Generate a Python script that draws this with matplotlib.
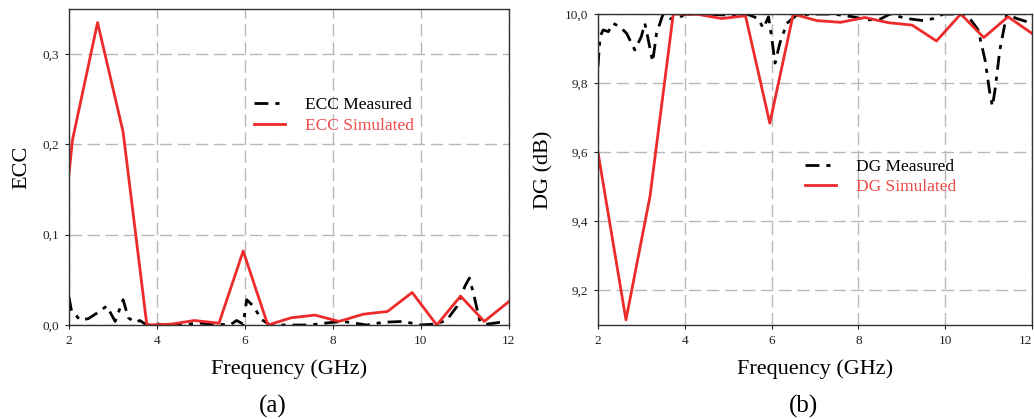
import matplotlib.pyplot as plt
from matplotlib.ticker import FuncFormatter

plt.rcParams["font.family"] = ["Liberation Serif", "DejaVu Serif"]

RED = "#ee2b2b"
RED_TEXT = "#f04a4a"

# ECC, simulated
ecc_sim_f = [2.0, 2.08, 2.65, 3.23, 3.77, 4.33, 4.85, 5.41, 5.96, 6.52, 7.05, 7.59,
             8.14, 8.69, 9.24, 9.80, 10.36, 10.90, 11.44, 12.0]
ecc_sim = [0.167, 0.205, 0.335, 0.214, 0.0, 0.001, 0.005, 0.002, 0.082, 0.0, 0.008, 0.011,
           0.004, 0.012, 0.015, 0.036, 0.0, 0.032, 0.004, 0.026]

# ECC, measured
ecc_meas_f = [2.0, 2.06, 2.12, 2.25, 2.44, 2.63, 2.86, 3.05, 3.23, 3.35, 3.5, 3.61, 3.77,
              4.0, 4.4, 4.98, 5.35, 5.66, 5.81, 5.96, 6.04, 6.19, 6.38, 6.57, 7.0, 7.45,
              8.0, 8.23, 8.77, 9.14, 9.6, 9.98, 10.3, 10.58, 10.81, 11.0, 11.1, 11.19,
              11.34, 11.5, 11.8, 11.95]
ecc_meas = [0.031, 0.015, 0.013, 0.0055, 0.007, 0.013, 0.021, 0.004, 0.028, 0.008, 0.003,
            0.005, 0.0, 0.001, 0.0, 0.002, 0.001, 0.0, 0.005, 0.001, 0.028, 0.021, 0.006,
            0.0, 0.0, 0.0, 0.003, 0.004, 0.0, 0.003, 0.004, 0.0, 0.001, 0.005, 0.020, 0.043,
            0.052, 0.036, 0.004, 0.001, 0.003, 0.005]

# DG (dB), simulated
dg_sim_f = [2.0, 2.645, 3.2, 3.735, 4.3, 4.85, 5.40, 5.96, 6.5, 7.04, 7.59, 8.15, 8.69,
            9.24, 9.80, 10.36, 10.89, 11.45, 12.0]
dg_sim = [9.60, 9.115, 9.473, 10.0, 9.999, 9.987, 9.995, 9.684, 10.0, 9.981, 9.976, 9.990,
          9.975, 9.968, 9.922, 10.0, 9.932, 9.992, 9.944]

# DG (dB), measured
dg_meas_f = [2.0, 2.05, 2.12, 2.24, 2.35, 2.51, 2.66, 2.85, 3.0, 3.08, 3.16, 3.26, 3.35,
             3.5, 3.66, 3.85, 4.0, 4.43, 4.96, 5.43, 5.69, 5.81, 5.93, 6.0, 6.08, 6.19,
             6.35, 6.58, 6.96, 7.42, 7.88, 8.19, 8.5, 8.73, 9.11, 9.5, 9.73, 9.96, 10.34,
             10.57, 10.76, 10.92, 11.03, 11.09, 11.15, 11.26, 11.42, 11.65, 11.88, 12.0]
dg_meas = [9.848, 9.935, 9.954, 9.949, 9.973, 9.963, 9.944, 9.896, 9.935, 9.973, 9.925,
           9.862, 9.944, 10.0, 9.987, 9.987, 10.0, 10.0, 9.997, 10.0, 9.987, 9.959, 9.992,
           9.935, 9.858, 9.915, 9.973, 9.997, 10.0, 10.0, 9.992, 9.983, 9.985, 10.0, 9.987,
           9.981, 9.987, 10.0, 10.0, 9.987, 9.954, 9.867, 9.771, 9.733, 9.781, 9.896, 10.0,
           9.987, 9.978, 9.968]

x_ticks = [2, 4, 6, 8, 10, 12]
ecc_ticks = [0.0, 0.1, 0.2, 0.3]
dg_ticks = [9.2, 9.4, 9.6, 9.8, 10.0]

comma = FuncFormatter(lambda v, pos: f"{v:.1f}".replace(".", ","))
dashdot = (0, (5, 2.5, 1.5, 2.5))


def style_axes(ax):
    ax.set_xlim(2, 12)
    ax.set_xticks(x_ticks)
    ax.grid(True, color="#b8b8b8", linestyle=(0, (9, 4)), linewidth=1.0)
    ax.set_axisbelow(True)
    ax.yaxis.set_major_formatter(comma)
    ax.tick_params(labelsize=9.5, length=3, width=0.8, colors="#222222", pad=4)
    for sp in ax.spines.values():
        sp.set_color("#333333")
        sp.set_linewidth(1.0)
    ax.set_xlabel("Frequency (GHz)", fontsize=16, labelpad=9)


fig = plt.figure(figsize=(10.34, 4.19), dpi=100)
ax1 = fig.add_axes([0.0667, 0.2243, 0.4255, 0.7542])
ax2 = fig.add_axes([0.5783, 0.2243, 0.4197, 0.7422])

ax1.plot(ecc_meas_f, ecc_meas, color="black", linestyle=dashdot,
         linewidth=2.0, label="ECC Measured")
ax1.plot(ecc_sim_f, ecc_sim, color=RED, linewidth=2.0, label="ECC Simulated")
ax1.set_ylim(0, 0.35)
ax1.set_yticks(ecc_ticks)
style_axes(ax1)
ax1.set_ylabel("ECC", fontsize=16, labelpad=8)
ax1.legend(loc="upper left", bbox_to_anchor=(0.385, 0.77), frameon=False,
           fontsize=12.5, handlelength=1.8, handletextpad=1.15, labelspacing=0.25,
           labelcolor=["black", RED_TEXT])

ax2.plot(dg_meas_f, dg_meas, color="black", linestyle=dashdot,
         linewidth=2.0, label="DG Measured")
ax2.plot(dg_sim_f, dg_sim, color=RED, linewidth=2.0, label="DG Simulated")
ax2.set_ylim(9.1, 10.0)
ax2.set_yticks(dg_ticks)
style_axes(ax2)
ax2.set_ylabel("DG (dB)", fontsize=16, labelpad=8)
ax2.legend(loc="upper left", bbox_to_anchor=(0.44, 0.585), frameon=False,
           fontsize=12.5, handlelength=1.8, handletextpad=1.15, labelspacing=0.25,
           labelcolor=["black", RED_TEXT])
ax2.get_xticklabels()[-1].set_ha("right")

fig.text(0.264, 0.003, "(a)", fontsize=18, ha="center", va="bottom")
fig.text(0.777, 0.003, "(b)", fontsize=18, ha="center", va="bottom")

fig.savefig("out.png", dpi=100)
